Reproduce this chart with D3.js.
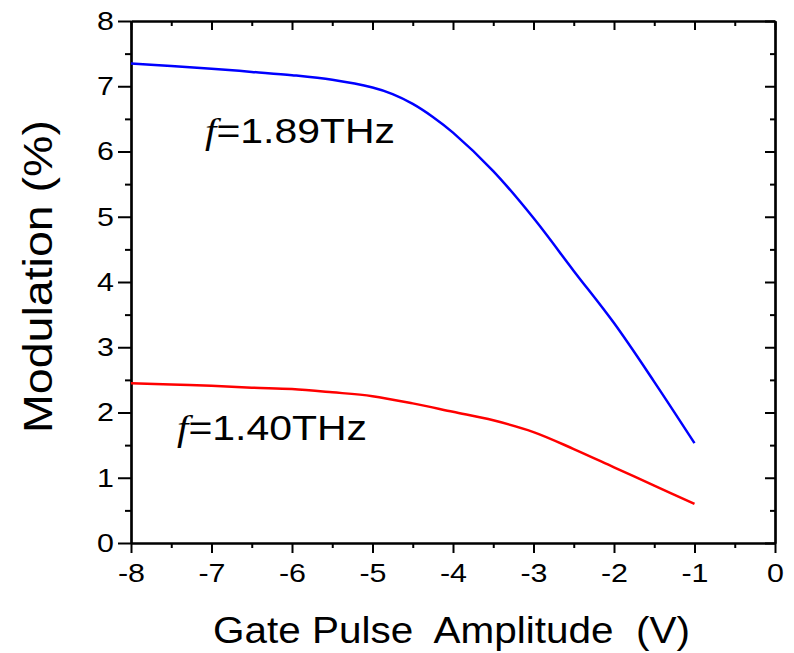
<!DOCTYPE html>
<html>
<head>
<meta charset="utf-8">
<script src="https://cdn.jsdelivr.net/npm/d3@7"></script>
<style>
  body { margin: 0; background: #fff; }
  svg { font-family: Arial, "Liberation Sans", sans-serif; }
</style>
</head>
<body>
<div id="chart"></div>
<script>
// gate pulse amplitude (V) vs modulation (%)
const voltsBlue = [-8, -7.5, -7, -6.5, -6, -5.5, -5, -4.75, -4.5, -4.25, -4, -3.5, -3, -2.5, -2, -1.5, -1];
const modBlue = [7.35, 7.31, 7.27, 7.22, 7.17, 7.10, 6.98, 6.88, 6.73, 6.53, 6.29, 5.70, 4.98, 4.17, 3.37, 2.47, 1.53];
const voltsRed = [-8, -7.5, -7, -6.5, -6, -5.5, -5, -4.5, -4, -3.5, -3, -2.5, -2, -1.5, -1];
const modRed = [2.45, 2.43, 2.41, 2.38, 2.36, 2.31, 2.25, 2.14, 2.01, 1.88, 1.70, 1.44, 1.16, 0.88, 0.60];
const xTicks = [-8, -7, -6, -5, -4, -3, -2, -1, 0];
const yTicks = [0, 1, 2, 3, 4, 5, 6, 7, 8];
const labels = ['=1.89THz', '=1.40THz'];

const width = 794, height = 653;
const margin = { top: 21, right: 19, bottom: 110, left: 131 };
const stretch = 1.17; // the source font is drawn wider than Arial

const svg = d3.select('#chart').append('svg')
  .attr('width', width)
  .attr('height', height);

const x = d3.scaleLinear().domain([-8, 0]).range([margin.left, width - margin.right]);
const y = d3.scaleLinear().domain([0, 8]).range([height - margin.bottom, margin.top]);

const minorX = d3.range(-7.5, 0, 1);
const minorY = d3.range(0.5, 8, 1);

function widen(sel, k) {
  sel.each(function () {
    const len = this.getComputedTextLength();
    d3.select(this)
      .attr('textLength', len * k)
      .attr('lengthAdjust', 'spacingAndGlyphs');
  });
}

function styleAxis(g) {
  g.select('.domain').attr('stroke', '#000').attr('stroke-width', 2.2);
  g.selectAll('.tick line').attr('stroke', '#000').attr('stroke-width', 2);
  g.selectAll('text').attr('font-size', 26).attr('fill', '#000')
    .attr('font-family', 'Arial, "Liberation Sans", sans-serif');
}

const fmt = d => String(d);

// bottom
svg.append('g')
  .attr('transform', `translate(0,${y(0)})`)
  .call(d3.axisBottom(x).tickValues(xTicks).tickSize(10).tickPadding(11).tickSizeOuter(0).tickFormat(fmt))
  .call(styleAxis)
  .call(g => widen(g.selectAll('text'), stretch));
svg.append('g')
  .attr('transform', `translate(0,${y(0)})`)
  .call(d3.axisBottom(x).tickValues(minorX).tickSize(5).tickFormat('').tickSizeOuter(0))
  .call(styleAxis);

// left
svg.append('g')
  .attr('transform', `translate(${x(-8)},0)`)
  .call(d3.axisLeft(y).tickValues(yTicks).tickSize(13).tickPadding(4).tickSizeOuter(0).tickFormat(fmt))
  .call(styleAxis)
  .call(g => widen(g.selectAll('text'), stretch));
svg.append('g')
  .attr('transform', `translate(${x(-8)},0)`)
  .call(d3.axisLeft(y).tickValues(minorY).tickSize(6).tickFormat('').tickSizeOuter(0))
  .call(styleAxis);

// top (ticks inward)
svg.append('g')
  .attr('transform', `translate(0,${y(8)})`)
  .call(d3.axisTop(x).tickValues(xTicks).tickSize(-9).tickFormat('').tickSizeOuter(0))
  .call(styleAxis);
svg.append('g')
  .attr('transform', `translate(0,${y(8)})`)
  .call(d3.axisTop(x).tickValues(minorX).tickSize(-5).tickFormat('').tickSizeOuter(0))
  .call(styleAxis);

// right (ticks inward)
svg.append('g')
  .attr('transform', `translate(${x(0)},0)`)
  .call(d3.axisRight(y).tickValues(yTicks).tickSize(-10).tickFormat('').tickSizeOuter(0))
  .call(styleAxis);
svg.append('g')
  .attr('transform', `translate(${x(0)},0)`)
  .call(d3.axisRight(y).tickValues(minorY).tickSize(-5).tickFormat('').tickSizeOuter(0))
  .call(styleAxis);

const line = d3.line().x(d => x(d[0])).y(d => y(d[1])).curve(d3.curveCatmullRom.alpha(0.5));

svg.append('path')
  .datum(d3.zip(voltsBlue, modBlue))
  .attr('fill', 'none')
  .attr('stroke', '#0000ff')
  .attr('stroke-width', 2.5)
  .attr('d', line);

svg.append('path')
  .datum(d3.zip(voltsRed, modRed))
  .attr('fill', 'none')
  .attr('stroke', '#ff0000')
  .attr('stroke-width', 2.5)
  .attr('d', line);

// curve labels
function curveLabel(px, py, rest) {
  const t = svg.append('text')
    .attr('transform', `translate(${px},${py}) scale(${stretch},1)`)
    .attr('font-size', 35).attr('fill', '#000');
  t.append('tspan')
    .attr('font-family', '"Liberation Serif", "Times New Roman", serif')
    .attr('font-style', 'italic')
    .text('f');
  t.append('tspan').text(rest);
}
curveLabel(205, 143, labels[0]);
curveLabel(177, 440, labels[1]);

// axis titles
svg.append('text')
  .attr('x', 213).attr('y', 643)
  .attr('font-size', 36)
  .attr('fill', '#000')
  .attr('textLength', 477)
  .attr('lengthAdjust', 'spacingAndGlyphs')
  .style('white-space', 'pre')
  .text('Gate Pulse  Amplitude  (V)');

svg.append('text')
  .attr('transform', 'translate(52,433) rotate(-90)')
  .attr('font-size', 40)
  .attr('fill', '#000')
  .attr('textLength', 313)
  .attr('lengthAdjust', 'spacingAndGlyphs')
  .style('white-space', 'pre')
  .text('Modulation (%)');
</script>
</body>
</html>
